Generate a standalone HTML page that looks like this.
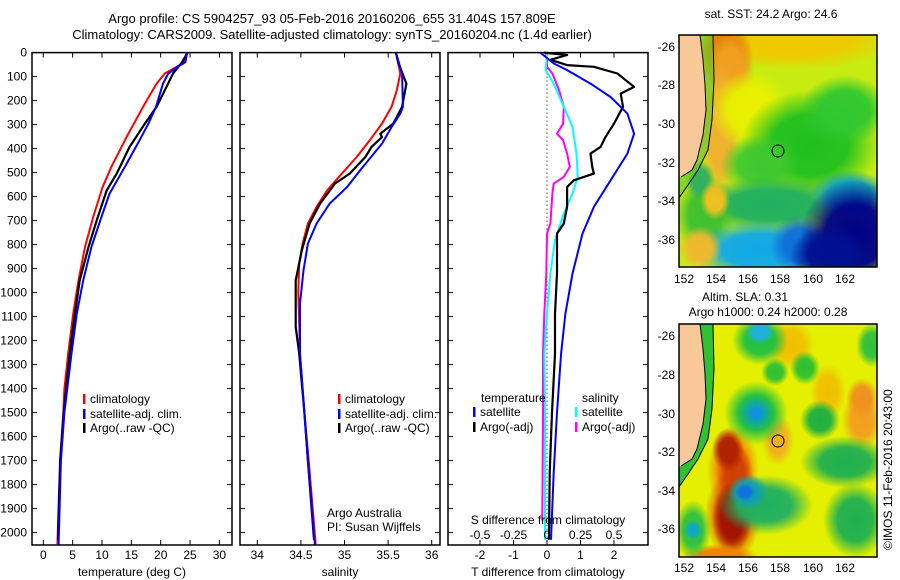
<!DOCTYPE html>
<html><head><meta charset="utf-8"><style>
html,body{margin:0;padding:0;background:#fff;}
svg{display:block;font-family:"Liberation Sans",sans-serif;}
</style></head><body>
<svg id="chart" width="900" height="580" viewBox="0 0 900 580" xmlns="http://www.w3.org/2000/svg">
<defs id="defs">
<clipPath id="clipTop"><rect x="679" y="35" width="198" height="232"/></clipPath>
<clipPath id="clipBot"><rect x="679" y="324" width="198" height="233"/></clipPath>
</defs>
<g font-size="13" text-anchor="middle">
<text x="332" y="23">Argo profile: CS 5904257_93 05-Feb-2016 20160206_655 31.404S 157.809E</text>
<text x="332" y="39">Climatology: CARS2009. Satellite-adjusted climatology: synTS_20160204.nc (1.4d earlier)</text>
</g>
<g id="panels"></g>

<!-- SST map -->
<g>
<text x="771" y="18" font-size="12" text-anchor="middle">sat. SST: 24.2 Argo: 24.6</text>
<g clip-path="url(#clipTop)">
<rect x="679" y="35" width="198" height="232" fill="#c8ec10"/>
<g id="sstBlobs"></g>
<polygon points="700,35 713,35 714,80 712,120 708,150 698,170 688,185 679,198 679,177 681,177 692,170 697,160 703,135 706,110 705,85 703,60" fill="#60c830" opacity="0.6"/>
<polygon points="679,35 700,35 703,60 705,85 706,110 703,135 697,160 692,170 681,177 679,177" fill="#f8c898"/>
<polyline points="700,35 703,60 705,85 706,110 703,135 697,160 692,170 681,177" fill="none" stroke="#000" stroke-width="1"/>
<polyline points="713,35 714,80 712,120 708,150 698,170 688,185 679,198" fill="none" stroke="#000" stroke-width="1"/>
<circle cx="778" cy="151" r="6" fill="none" stroke="#000" stroke-width="1"/>
</g>
<rect x="679" y="35" width="198" height="232" fill="none" stroke="#000" stroke-width="1.5"/>
<g font-size="12" text-anchor="end">
<text x="675" y="51">-26</text><text x="675" y="89">-28</text><text x="675" y="128">-30</text><text x="675" y="167">-32</text><text x="675" y="205">-34</text><text x="675" y="244">-36</text>
</g>
<g font-size="12" text-anchor="middle">
<text x="684" y="283">152</text><text x="716" y="283">154</text><text x="748" y="283">156</text><text x="780" y="283">158</text><text x="813" y="283">160</text><text x="845" y="283">162</text>
</g>
</g>

<!-- SLA map -->
<g>
<text x="745" y="301" font-size="12" text-anchor="middle">Altim. SLA: 0.31</text>
<text x="768" y="316" font-size="12" text-anchor="middle">Argo h1000: 0.24 h2000: 0.28</text>
<g clip-path="url(#clipBot)">
<rect x="679" y="324" width="198" height="233" fill="#e4f000"/>
<g id="slaBlobs"></g>
<polygon points="700,324 713,324 714,369 712,409 708,439 698,459 688,474 679,487 679,466 681,466 692,459 697,449 703,424 706,399 705,374 703,349" fill="#30c030"/>
<polygon points="679,324 700,324 703,349 705,374 706,399 703,424 697,449 692,459 681,466 679,466" fill="#f8c898"/>
<polyline points="700,324 703,349 705,374 706,399 703,424 697,449 692,459 681,466" fill="none" stroke="#000" stroke-width="1"/>
<polyline points="713,324 714,369 712,409 708,439 698,459 688,474 679,487" fill="none" stroke="#000" stroke-width="1"/>
<circle cx="778" cy="441" r="6" fill="none" stroke="#000" stroke-width="1"/>
</g>
<rect x="679" y="324" width="198" height="233" fill="none" stroke="#000" stroke-width="1.5"/>
<g font-size="12" text-anchor="end">
<text x="675" y="340">-26</text><text x="675" y="379">-28</text><text x="675" y="418">-30</text><text x="675" y="456">-32</text><text x="675" y="495">-34</text><text x="675" y="533">-36</text>
</g>
<g font-size="12" text-anchor="middle">
<text x="684" y="572">152</text><text x="716" y="572">154</text><text x="748" y="572">156</text><text x="780" y="572">158</text><text x="813" y="572">160</text><text x="845" y="572">162</text>
</g>
</g>
<text transform="translate(892,550) rotate(-90)" font-size="12">©IMOS 11-Feb-2016 20:43:00</text>
</svg>
<script>
// ---- data ----
const tClimDepth = [0,40,59,87,129,226,351,476,560,685,810,949,1088,1254,1400,1500,1700,2050];
const tClimVal   = [24.4,24.0,22.7,20.7,19.3,17.0,14.2,11.6,10.1,8.5,7.1,6.0,5.1,4.25,3.6,3.4,2.85,2.4];
const tSatDepth = [0,40,59,87,129,226,296,365,476,587,685,810,949,1088,1254,1500,1700,2050];
const tSatVal   = [24.5,24.2,22.9,21.3,20.4,19.2,17.9,16.4,13.9,11.3,9.9,8.2,6.8,5.7,4.8,3.6,3.0,2.6];
const tArgoDepth = [0,45,87,157,226,296,393,504,574,699,810,949,1088,1254,1500,1700,2030];
const tArgoVal   = [24.6,23.5,22.1,20.7,19.3,17.3,14.7,12.5,10.8,9.1,7.7,6.2,5.4,4.5,3.5,2.9,2.5];

const sClimDepth = [0,87,157,226,296,365,435,504,574,643,712,796,880,1000,1254,1500,1700,2050];
const sClimVal   = [35.59,35.64,35.6,35.54,35.43,35.29,35.14,34.97,34.80,34.68,34.58,34.52,34.48,34.47,34.49,34.54,34.59,34.67];
const sSatDepth = [0,87,226,254,310,379,490,560,629,712,796,907,1046,1254,1500,1700,2050];
const sSatVal   = [35.59,35.66,35.67,35.64,35.54,35.43,35.18,35.03,34.83,34.68,34.58,34.53,34.49,34.49,34.54,34.58,34.66];
const sArgoDepth = [0,45,129,226,296,338,352,393,435,504,546,629,712,824,949,1143,1254,1500,1700,2030];
const sArgoVal   = [35.59,35.62,35.71,35.66,35.56,35.41,35.43,35.31,35.24,35.06,34.89,34.72,34.60,34.51,34.44,34.44,34.48,34.54,34.58,34.65];

const dTSatDepth = [0,45,73,129,185,254,338,421,532,643,754,921,1088,1254,1500,1750,2030];
const dTSatVal   = [-0.2,0.2,0.6,1.3,1.9,2.4,2.6,2.4,1.9,1.4,1.06,0.76,0.55,0.42,0.3,0.2,0.12];
const dTArgoDepth = [0,10,30,52,59,87,115,143,171,226,296,351,393,421,476,504,532,560,643,712,754,921,1088,1254,1500,1750,2030];
const dTArgoVal   = [-0.1,0.6,0.1,0.6,1.4,2.1,2.35,2.6,2.2,2.27,2.0,1.75,1.6,1.3,1.35,1.4,0.8,0.6,0.6,0.5,0.3,0.3,0.24,0.24,0.15,0.08,0.06];
const dSSatDepth = [0,73,129,226,310,421,518,587,671,782,921,1088,1254,1500,2030];
const dSSatVal   = [0,-0.01,0.05,0.125,0.19,0.22,0.23,0.19,0.125,0.06,0.025,0,-0.02,-0.015,-0.015];
const dSArgoDepth = [0,31,59,87,157,226,296,338,365,421,476,518,546,587,712,754,921,1088,1254,1500,1950];
const dSArgoVal   = [-0.01,0,0,0.04,0.09,0.125,0.12,0.075,0.12,0.15,0.17,0.125,0.05,0.04,0.025,0,-0.005,-0.02,-0.03,-0.03,-0.035];

const depthTicks = [0,100,200,300,400,500,600,700,800,900,1000,1100,1200,1300,1400,1500,1600,1700,1800,1900,2000];
const tempTicks = [0,5,10,15,20,25,30];
const salTicks = [34,34.5,35,35.5,36];
const dTTicks = [-2,-1,0,1,2];
const dSTicks = [-0.5,-0.25,0,0.25,0.5];
const dSTickLabels = ['-0.5','-0.25','0','0.25','0.5'];

// ---- scales ----
const Y0 = 52.6, Y1 = 545;
const yD = d => Y0 + d*0.24;
const xT = t => 43.3 + t*5.87;
const xS = s => 257.3 + (s-34)*87.2;
const xdT = t => 547 + t*33.5;
const xdS = s => 547 + s*134;

const NS = 'http://www.w3.org/2000/svg';
const root = document.getElementById('panels');
function mk(tag, attrs, parent){
  const e = document.createElementNS(NS, tag);
  for (const k in attrs) e.setAttribute(k, attrs[k]);
  (parent||root).appendChild(e);
  return e;
}
function txt(x,y,s,anchor,size,parent){
  const t = mk('text',{x:x,y:y,'font-size':size||12,'text-anchor':anchor||'middle'},parent);
  t.textContent = s;
  return t;
}
function line(depths, vals, xf, color, name, w){
  const pts = depths.map((d,i)=> xf(vals[i]).toFixed(1)+','+yD(d).toFixed(1)).join(' ');
  const p = mk('polyline',{points:pts,fill:'none',stroke:color,'stroke-width':w||2,'stroke-linejoin':'round'});
  
  
  return p;
}
function frame(x0,x1,name){
  const g = mk('g',{});
  
  
  mk('rect',{x:x0,y:Y0,width:x1-x0,height:Y1-Y0,fill:'none',stroke:'#000','stroke-width':1.5},g);
  depthTicks.forEach(d=>{
    mk('line',{x1:x0,x2:x0+5,y1:yD(d),y2:yD(d),stroke:'#000'},g);
    mk('line',{x1:x1-5,x2:x1,y1:yD(d),y2:yD(d),stroke:'#000'},g);
  });
  return g;
}
function xticks(g, ticks, xf){
  ticks.forEach(v=>{
    mk('line',{x1:xf(v),x2:xf(v),y1:Y0,y2:Y0+5,stroke:'#000'},g);
    mk('line',{x1:xf(v),x2:xf(v),y1:Y1-5,y2:Y1,stroke:'#000'},g);
  });
}
function legendItem(x,y,color,label,name){
  const g = mk('g',{});
  
  
  mk('rect',{x:x,y:y-9,width:2.5,height:10,fill:color},g);
  txt(x+7,y,label,'start',12,g);
}

// ---- soft map blobs (radial gradients) ----
const defs = document.getElementById('defs');
const gradCache = {};
function grad(color){
  if (gradCache[color]) return gradCache[color];
  const id = 'rg' + Object.keys(gradCache).length;
  const g = mk('radialGradient',{id:id},defs);
  mk('stop',{offset:'0','stop-color':color,'stop-opacity':1},g);
  mk('stop',{offset:'0.55','stop-color':color,'stop-opacity':0.95},g);
  mk('stop',{offset:'1','stop-color':color,'stop-opacity':0},g);
  gradCache[color] = id;
  return id;
}
function blobs(parentId, list){
  const p = document.getElementById(parentId);
  list.forEach(b=> mk('ellipse',{cx:b[0],cy:b[1],rx:b[2],ry:b[3],fill:'url(#'+grad(b[4])+')'},p));
}
blobs('sstBlobs', [
  [790,40,110,30,'#f0c800'],[725,55,28,35,'#e07800'],[730,70,25,40,'#f0a020'],
  [720,130,22,70,'#f0b030'],[750,110,40,40,'#e8f000'],
  [810,145,70,55,'#20c020'],[845,110,45,35,'#30c830'],[760,165,40,30,'#40c830'],
  [770,205,80,28,'#20b060'],[705,215,30,40,'#40c030'],[700,180,15,20,'#30b060'],
  [760,250,70,30,'#10a8e8'],[800,245,30,30,'#1070d8'],[850,195,40,25,'#10a0c0'],
  [855,235,55,55,'#000088'],[830,255,40,30,'#001090'],[700,248,22,22,'#f0b830'],[715,200,15,20,'#f0c020']
]);
blobs('slaBlobs', [
  [790,345,25,25,'#f0c000'],[828,392,18,28,'#f0c000'],[862,420,20,30,'#f0a020'],
  [760,340,28,25,'#20c040'],[760,332,14,12,'#20b0e0'],[775,372,14,14,'#30c030'],
  [805,368,15,17,'#30c030'],[872,345,16,22,'#30c040'],[820,420,20,20,'#20b040'],
  [845,462,45,26,'#20b050'],[855,520,32,38,'#20b050'],[862,398,16,20,'#f09020'],
  [733,470,26,45,'#f08000'],[733,515,28,45,'#e05000'],
  [735,475,18,32,'#d04000'],[732,518,20,36,'#a01000'],[728,450,16,22,'#b02000'],
  [720,556,38,12,'#f08000'],[693,530,18,30,'#30c040'],[778,440,16,26,'#f0b020'],
  [765,505,48,30,'#20b060'],[756,413,32,32,'#20c040'],[756,413,18,18,'#10a8a0'],
  [756,413,9,9,'#1090e0'],[748,492,20,18,'#10a0b0'],[745,492,10,9,'#1070e0'],[693,530,9,10,'#10a8c0']
]);

// depth labels
const ylab = mk('g',{});


depthTicks.forEach(d=> txt(27, yD(d)+4, String(d), 'end', 12, ylab));

// Panel 1 temperature
const g1 = frame(32,232,'temperature-panel');
xticks(g1, tempTicks, xT);
const xl1 = mk('g',{});


tempTicks.forEach(v=> txt(xT(v), 559, String(v), 'middle', 12, xl1));
const xt1 = txt(132, 576, 'temperature (deg C)');


line(tClimDepth, tClimVal, xT, '#ff0000', 'temp-climatology-line');
line(tArgoDepth, tArgoVal, xT, '#000000', 'temp-argo-line', 2.2);
line(tSatDepth, tSatVal, xT, '#0000ff', 'temp-satellite-line');
legendItem(83,403,'#ff0000','climatology','legend-climatology');
legendItem(83,418,'#0000ff','satellite-adj. clim.','legend-satellite-adj');
legendItem(83,432,'#000000','Argo(..raw -QC)','legend-argo');

// Panel 2 salinity
const g2 = frame(240,440,'salinity-panel');
xticks(g2, salTicks, xS);
const xl2 = mk('g',{});


salTicks.forEach(v=> txt(xS(v), 559, String(v), 'middle', 12, xl2));
const xt2 = txt(340, 576, 'salinity');


line(sClimDepth, sClimVal, xS, '#ff0000', 'sal-climatology-line');
line(sArgoDepth, sArgoVal, xS, '#000000', 'sal-argo-line', 2.2);
line(sSatDepth, sSatVal, xS, '#0000ff', 'sal-satellite-line');
legendItem(338,403,'#ff0000','climatology','legend-sal-climatology');
legendItem(338,418,'#0000ff','satellite-adj. clim.','legend-sal-satellite-adj');
legendItem(338,432,'#000000','Argo(..raw -QC)','legend-sal-argo');
const cr1 = txt(327,517,'Argo Australia','start');


const cr2 = txt(327,531,'PI: Susan Wijffels','start');



// Panel 3 differences
const g3 = frame(448,648,'difference-panel');
xticks(g3, dTTicks, xdT);
const zl = mk('line',{x1:xdT(0),x2:xdT(0),y1:Y0,y2:Y1,stroke:'#000','stroke-width':1,'stroke-dasharray':'1,3'});


line(dSArgoDepth, dSArgoVal, xdS, '#ff00ff', 'sdiff-argo-line');
line(dSSatDepth, dSSatVal, xdS, '#00ffff', 'sdiff-satellite-line');
line(dTArgoDepth, dTArgoVal, xdT, '#000000', 'tdiff-argo-line', 2.2);
line(dTSatDepth, dTSatVal, xdT, '#0000ff', 'tdiff-satellite-line');
const xl3 = mk('g',{});


dTTicks.forEach(v=> txt(xdT(v), 559, String(v), 'middle', 12, xl3));
const xt3 = txt(548, 576, 'T difference from climatology');


const sl3 = mk('g',{});


dSTicks.forEach((v,i)=> txt(xdS(v), 539, dSTickLabels[i], 'middle', 12, sl3));
const st3 = txt(548, 524, 'S difference from climatology');


const lt = txt(481,402,'temperature','start');


const ls = txt(582,402,'salinity','start');


legendItem(473,416,'#0000ff','satellite','legend-tdiff-satellite');
legendItem(473,431,'#000000','Argo(-adj)','legend-tdiff-argo');
legendItem(575,416,'#00ffff','satellite','legend-sdiff-satellite');
legendItem(575,431,'#ff00ff','Argo(-adj)','legend-sdiff-argo');
</script>
</body></html>
